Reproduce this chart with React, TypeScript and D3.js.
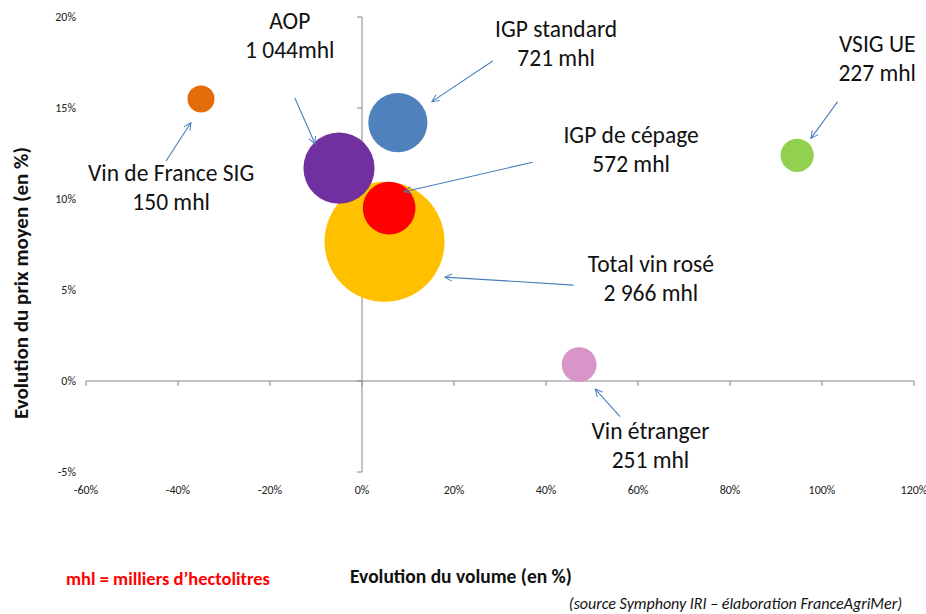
import React from "react";
import * as d3 from "d3";

// bubble data : evolution volume / prix moyen, vin rosé
const categories = ["Total vin rosé", "AOP", "IGP standard", "IGP de cépage", "Vin de France SIG", "VSIG UE", "Vin étranger"];
const volumeChange = [4.9, -5.0, 7.8, 5.9, -35.0, 94.6, 47.2];
const priceChange = [7.65, 11.7, 14.2, 9.5, 15.5, 12.4, 0.9];
const volumeMhl = [2966, 1044, 721, 572, 150, 227, 251];
const volumeLabels = ["2 966 mhl", "1 044mhl", "721 mhl", "572 mhl", "150 mhl", "227 mhl", "251 mhl"];
const colors = ["#FFC000", "#7030A0", "#4F81BD", "#FF0000", "#E46C0A", "#92D050", "#D896C8"];

const xTicks = [-60, -40, -20, 0, 20, 40, 60, 80, 100, 120];
const yTicks = [-5, 0, 5, 10, 15, 20];

// annotations, in data units: label anchor (centre, 1st baseline) and arrow from -> to
const labelPos = [[62.8, 6.0], [-15.7, 19.35], [42.2, 18.9], [58.5, 13.1], [-41.5, 11.0], [112, 18.1], [62.7, -3.2]];
const arrowFrom = [[46.0, 5.27], [-14.6, 15.55], [28.4, 17.58], [37.1, 12.02], [-42.6, 12.09], [103.4, 15.35], [56.1, -1.96]];
const arrowTo = [[18.0, 5.71], [-10.2, 13.02], [15.2, 15.35], [9.2, 10.4], [-37.2, 14.19], [97.6, 13.33], [50.7, -0.44]];

const W = 926;
const H = 614;
const font = "Carlito, Lato, 'Open Sans', sans-serif";

export default function App() {
    const x = d3.scaleLinear().domain([-60, 120]).range([86, 914]);
    const y = d3.scaleLinear().domain([-5, 20]).range([472, 17]);
    const r = d3.scaleSqrt().domain([0, 2966]).range([0, 60]);
    const pct = (v: number) => v + "%";
    const axisColor = "#868686";
    const arrowColor = "#4A7EBB";

    return (
        <svg width={W} height={H} style={{ position: "absolute", left: 0, top: 0, background: "#fff" }}
            fontFamily={font}>
            <defs>
                <marker id="arr" viewBox="0 0 10 10" refX="9" refY="5" markerWidth="9" markerHeight="9"
                    orient="auto" markerUnits="userSpaceOnUse">
                    <polyline points="1,1 9,5 1,9" fill="none" stroke={arrowColor} strokeWidth="1.1" />
                </marker>
            </defs>

            {/* axes */}
            <line x1={x(-60)} x2={x(120)} y1={y(0)} y2={y(0)} stroke={axisColor} />
            <line x1={x(0)} x2={x(0)} y1={y(-5)} y2={y(20)} stroke={axisColor} />
            {xTicks.map(t => (
                <g key={"x" + t}>
                    <line x1={x(t)} x2={x(t)} y1={y(0)} y2={y(0) + 5} stroke={axisColor} />
                    <text x={x(t)} y={494} textAnchor="middle" fontSize={12} fill="#222">{pct(t)}</text>
                </g>
            ))}
            {yTicks.map(t => (
                <g key={"y" + t}>
                    <line x1={x(0) - 5} x2={x(0)} y1={y(t)} y2={y(t)} stroke={axisColor} />
                    <text x={76} y={y(t) + 4} textAnchor="end" fontSize={12} fill="#222">{pct(t)}</text>
                </g>
            ))}

            {/* bubbles */}
            {categories.map((c, i) => (
                <circle key={c} cx={x(volumeChange[i])} cy={y(priceChange[i])} r={r(volumeMhl[i])} fill={colors[i]} />
            ))}

            {/* annotations */}
            {categories.map((c, i) => (
                <g key={"a" + c}>
                    <line x1={x(arrowFrom[i][0])} y1={y(arrowFrom[i][1])} x2={x(arrowTo[i][0])} y2={y(arrowTo[i][1])}
                        stroke={arrowColor} strokeWidth={1.1} markerEnd="url(#arr)" />
                    <text x={x(labelPos[i][0])} y={y(labelPos[i][1])} textAnchor="middle" fontSize={23.5} fill="#111">
                        <tspan x={x(labelPos[i][0])}>{c}</tspan>
                        <tspan x={x(labelPos[i][0])} dy={29}>{volumeLabels[i]}</tspan>
                    </text>
                </g>
            ))}

            {/* titles */}
            <text x={461} y={583} textAnchor="middle" fontSize={19.5} fontWeight="bold" fill="#111">Evolution du volume (en %)</text>
            <text transform={`translate(28,283) rotate(-90)`} textAnchor="middle" fontSize={21} fontWeight="bold" fill="#111">
                Evolution du prix moyen (en %)
            </text>
            <text x={66} y={585} fontSize={18.5} fontWeight="bold" fill="#FF0000">mhl = milliers d’hectolitres</text>
            <text x={902} y={609} textAnchor="end" fontSize={16} fontStyle="italic" fill="#111">
                (source Symphony IRI – élaboration FranceAgriMer)
            </text>
        </svg>
    );
}
